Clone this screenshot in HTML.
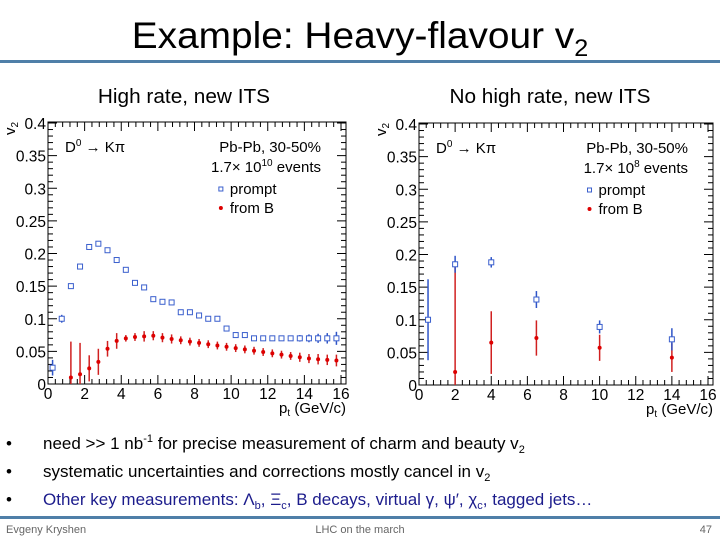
<!DOCTYPE html>
<html><head><meta charset="utf-8"><style>
body{margin:0;width:720px;height:540px;overflow:hidden;background:#fff;font-family:"Liberation Sans",sans-serif}
svg{display:block}
</style></head><body>
<svg id="s" width="720" height="540" viewBox="0 0 720 540">
<text x="360" y="48" text-anchor="middle" font-size="37" transform="translate(360 0) scale(1.05 1) translate(-360 0)">Example: Heavy-flavour v<tspan font-size="24" dy="8">2</tspan></text>
<rect x="0" y="60" width="720" height="3" fill="#4f7fa8"/>
<text x="184" y="103" text-anchor="middle" font-size="20" transform="translate(184 0) scale(1.04 1) translate(-184 0)">High rate, new ITS</text>
<text x="550" y="103" text-anchor="middle" font-size="20" transform="translate(550 0) scale(1.04 1) translate(-550 0)">No high rate, new ITS</text>
<g id="L"></g>
<g id="R"></g>
<g font-size="17">
<text x="6" y="449">•</text>
<text x="43" y="449">need &gt;&gt; 1 nb<tspan font-size="11" dy="-7">-1</tspan><tspan dy="7"> for precise measurement of charm and beauty v</tspan><tspan font-size="11" dy="4">2</tspan></text>
<text x="6" y="477">•</text>
<text x="43" y="477">systematic uncertainties and corrections mostly cancel in v<tspan font-size="11" dy="4">2</tspan></text>
<text x="6" y="505">•</text>
<text x="43" y="505" fill="#1c1c8c">Other key measurements: Λ<tspan font-size="11" dy="4">b</tspan><tspan dy="-4">, Ξ</tspan><tspan font-size="11" dy="4">c</tspan><tspan dy="-4">, B decays, virtual γ, ψ′, χ</tspan><tspan font-size="11" dy="4">c</tspan><tspan dy="-4">, tagged jets…</tspan></text>
</g>
<rect x="0" y="516" width="720" height="3" fill="#4f7fa8"/>
<g font-size="11" fill="#666">
<text x="6" y="533">Evgeny Kryshen</text>
<text x="360" y="533" text-anchor="middle">LHC on the march</text>
<text x="712" y="533" text-anchor="end">47</text>
</g>
</svg>
<script>
const leftPromptX=[0.25,0.75,1.25,1.75,2.25,2.75,3.25,3.75,4.25,4.75,5.25,5.75,6.25,6.75,7.25,7.75,8.25,8.75,9.25,9.75,10.25,10.75,11.25,11.75,12.25,12.75,13.25,13.75,14.25,14.75,15.25,15.75];
const leftPromptY=[0.025,0.1,0.15,0.18,0.21,0.215,0.205,0.19,0.175,0.155,0.148,0.13,0.126,0.125,0.11,0.11,0.105,0.1,0.1,0.085,0.075,0.075,0.07,0.07,0.07,0.07,0.07,0.07,0.07,0.07,0.07,0.07];
const leftPromptErr=[0.012,0.006,0.003,0.003,0.002,0.002,0.002,0.002,0.002,0.002,0.002,0.002,0.003,0.003,0.003,0.003,0.003,0.003,0.003,0.003,0.003,0.003,0.003,0.003,0.003,0.003,0.004,0.005,0.006,0.007,0.008,0.01];
const leftBX=[1.25,1.75,2.25,2.75,3.25,3.75,4.25,4.75,5.25,5.75,6.25,6.75,7.25,7.75,8.25,8.75,9.25,9.75,10.25,10.75,11.25,11.75,12.25,12.75,13.25,13.75,14.25,14.75,15.25,15.75];
const leftBY=[0.01,0.015,0.024,0.034,0.054,0.066,0.07,0.072,0.073,0.074,0.071,0.069,0.067,0.065,0.063,0.061,0.059,0.057,0.055,0.053,0.051,0.049,0.047,0.045,0.043,0.041,0.039,0.038,0.037,0.036];
const leftBErr=[0.055,0.048,0.02,0.02,0.012,0.012,0.005,0.006,0.008,0.007,0.007,0.007,0.006,0.006,0.006,0.006,0.006,0.006,0.006,0.006,0.006,0.006,0.006,0.006,0.006,0.007,0.007,0.008,0.008,0.009];
const rightPromptX=[0.5,2,4,6.5,10,14];
const rightPromptY=[0.1,0.185,0.188,0.131,0.089,0.07];
const rightPromptErr=[0.062,0.013,0.008,0.013,0.01,0.017];
const rightBX=[2,4,6.5,10,14];
const rightBY=[0.02,0.065,0.072,0.057,0.042];
const rightBErr=[0.165,0.048,0.027,0.02,0.022];
const xTicks=[0,2,4,6,8,10,12,14,16];
const yTicks=[0,0.05,0.1,0.15,0.2,0.25,0.3,0.35,0.4];
const yTickLabels=["0","0.05","0.1","0.15","0.2","0.25","0.3","0.35","0.4"];
const NS="http://www.w3.org/2000/svg";
function mk(p,t,a){const e=document.createElementNS(NS,t);for(const k in a)e.setAttribute(k,a[k]);p.appendChild(e);return e;}
function chart(g,x0,x1,y0,y1,pX,pY,pE,bX,bY,bE,pre,evExp){
  const X=v=>x0+v*(x1-x0)/16, Y=v=>y0-v*(y0-y1)/0.4;
  const f=mk(g,'rect',{x:x0,y:y1-1,width:(x1-x0)+5,height:y0-y1+1,fill:'none',stroke:'#000','stroke-width':1});
  
  
  const R=x1+5,T=y1-1;
  for(let v=0;v<=16.001;v+=0.4){const big=Math.abs(v/2-Math.round(v/2))<1e-6;const l=big?9:5;
    mk(g,'line',{x1:X(v),x2:X(v),y1:y0,y2:y0-l,stroke:'#000'});mk(g,'line',{x1:X(v),x2:X(v),y1:T,y2:T+l,stroke:'#000'});}
  for(let v=0;v<=0.4001;v+=0.01){const big=Math.abs(v/0.05-Math.round(v/0.05))<1e-6;const l=big?9:5;
    mk(g,'line',{x1:x0,x2:x0+l,y1:Y(v),y2:Y(v),stroke:'#000'});mk(g,'line',{x1:R,x2:R-l,y1:Y(v),y2:Y(v),stroke:'#000'});}
  xTicks.forEach(v=>{const t=mk(g,'text',{x:X(v),y:y0+15,'text-anchor':'middle','font-size':15.5});t.textContent=v;
    
    });
  yTicks.forEach((v,i)=>{const t=mk(g,'text',{x:x0-2,y:Y(v)+6,'text-anchor':'end','font-size':15.5});t.textContent=yTickLabels[i];
    
    });
  const xl=mk(g,'text',{x:R,y:y0+29,'text-anchor':'end','font-size':15});xl.innerHTML='p<tspan font-size="10" dy="3">t</tspan><tspan dy="-3"> (GeV/c)</tspan>';
  
  
  const yl=mk(g,'text',{x:0,y:0,'font-size':15,transform:`translate(${x0-33} ${y1+12}) rotate(-90)`});yl.innerHTML='v<tspan font-size="10" dy="3">2</tspan>';
  
  
  const t1=mk(g,'text',{x:x0+17,y:y1+29,'font-size':15});t1.innerHTML='D<tspan font-size="10" dy="-6">0</tspan><tspan dy="6"> → Kπ</tspan>';
  
  
  const t2=mk(g,'text',{x:x1-20,y:y1+29,'text-anchor':'end','font-size':15});t2.textContent='Pb-Pb, 30-50%';
  
  
  const t3=mk(g,'text',{x:x1-20,y:y1+49,'text-anchor':'end','font-size':15});t3.innerHTML='1.7× 10<tspan font-size="10" dy="-6">'+evExp+'</tspan><tspan dy="6"> events</tspan>';
  
  
  const lx=x0+(x1-x0)*0.59;
  const lp=mk(g,'rect',{x:lx-2,y:y1+64,width:4,height:4,fill:'none',stroke:'#3a5fcd'});
  
  
  const lt=mk(g,'text',{x:lx+9,y:y1+71,'font-size':15});lt.textContent='prompt';
  
  
  const lb=mk(g,'circle',{cx:lx,cy:y1+85,r:2,fill:'#d00'});
  
  
  const lt2=mk(g,'text',{x:lx+9,y:y1+90,'font-size':15});lt2.textContent='from B';
  
  
  bX.forEach((x,i)=>{const e=mk(g,'line',{x1:X(x),x2:X(x),y1:Y(Math.max(0,bY[i]-bE[i])),y2:Y(bY[i]+bE[i]),stroke:'#d02020','stroke-width':1.5});
    
    
    const c=mk(g,'circle',{cx:X(x),cy:Y(bY[i]),r:2,fill:'#d00'});
    
    });
  pX.forEach((x,i)=>{const e=mk(g,'line',{x1:X(x),x2:X(x),y1:Y(pY[i]-pE[i]),y2:Y(pY[i]+pE[i]),stroke:'#2f55c8','stroke-width':1.5});
    
    
    const m=mk(g,'rect',{x:X(x)-2.5,y:Y(pY[i])-2.5,width:5,height:5,fill:'#fff',stroke:'#3a5fcd','stroke-width':1});
    
    });
}
chart(document.getElementById('L'),48,341,384,123,leftPromptX,leftPromptY,leftPromptErr,leftBX,leftBY,leftBErr,'left-','10');
chart(document.getElementById('R'),419,708,385,124,rightPromptX,rightPromptY,rightPromptErr,rightBX,rightBY,rightBErr,'right-','8');
</script>
</body></html>
